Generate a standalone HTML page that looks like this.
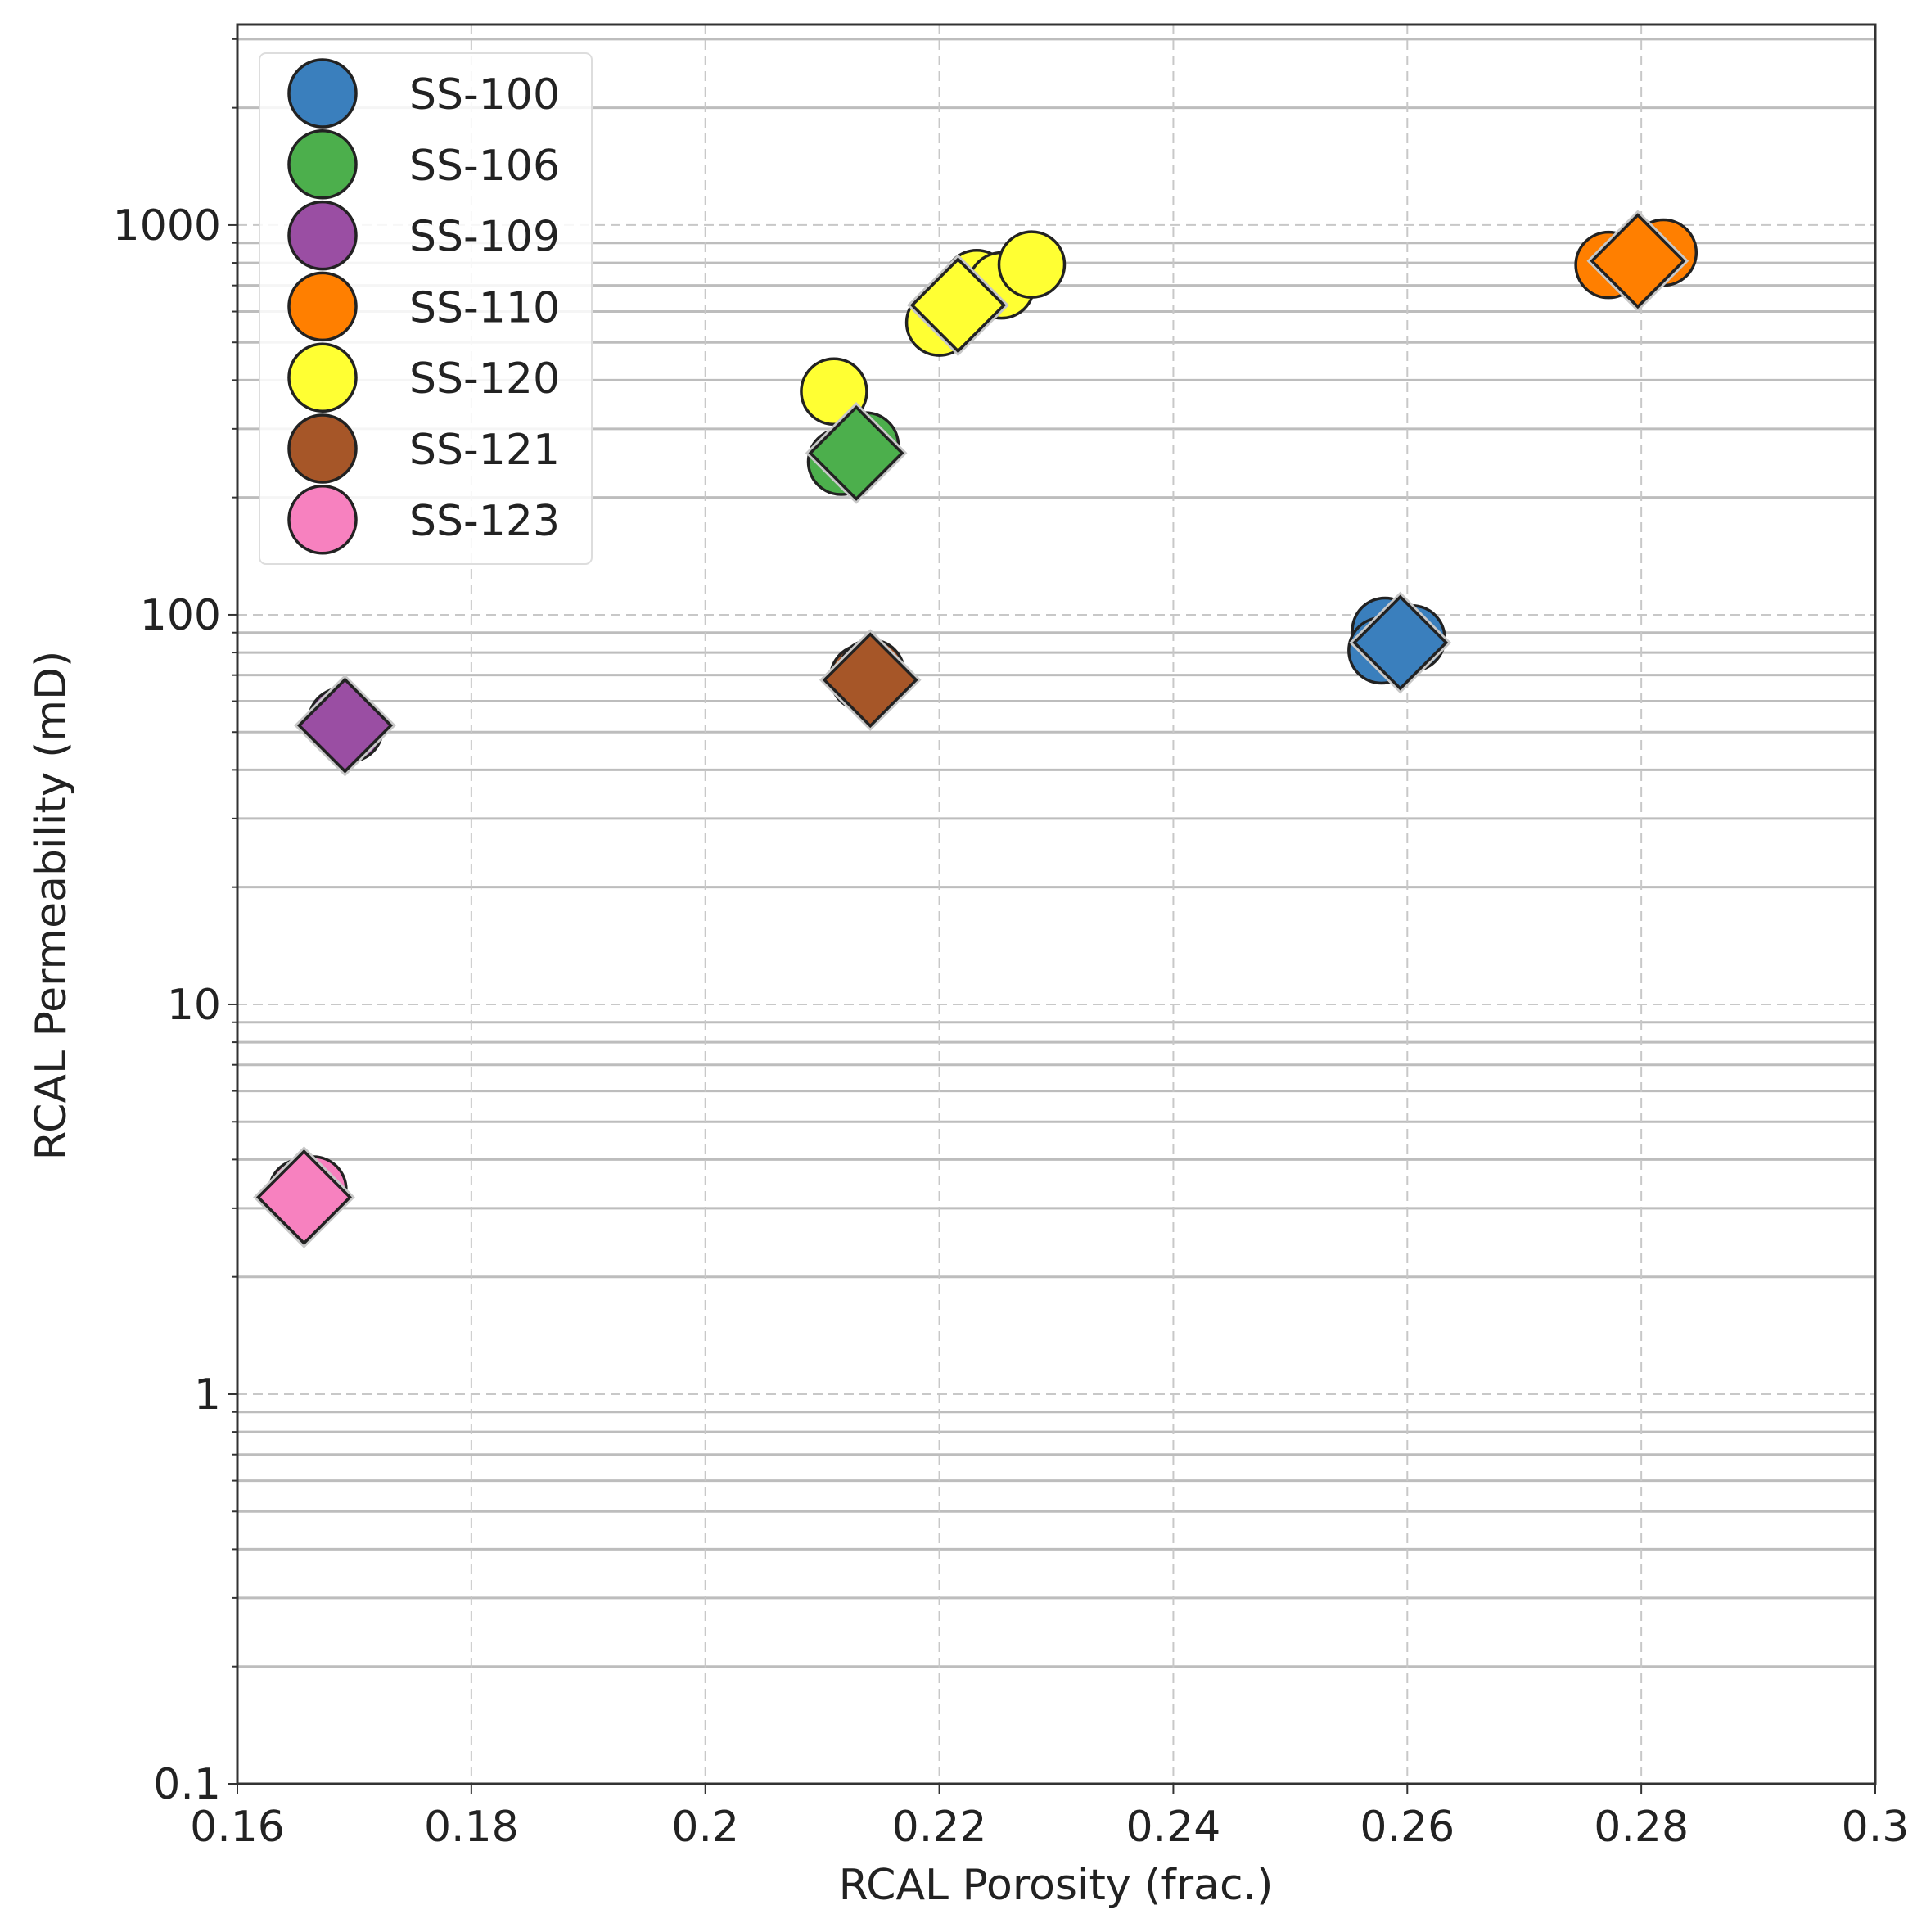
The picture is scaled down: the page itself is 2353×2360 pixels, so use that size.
<!DOCTYPE html>
<html><head><meta charset="utf-8">
<style>
html,body{margin:0;padding:0;background:#fff;}
svg{display:block;font-family:"DejaVu Sans","Liberation Sans",sans-serif;}
</style></head>
<body>
<svg id="chart" width="2353" height="2360" viewBox="0 0 2353 2360" xmlns="http://www.w3.org/2000/svg">
<g id="grid"></g>
<g id="marks"></g>
<g id="axes"></g>
<g id="legend"></g>
<text x="1290" y="2320" font-size="52" text-anchor="middle" fill="#222">RCAL Porosity (frac.)</text>
<text x="0" y="0" font-size="52" text-anchor="middle" fill="#222" transform="translate(80,1106) rotate(-90)">RCAL Permeability (mD)</text>
</svg>
<script>
const seriesNames = ["SS-100","SS-106","SS-109","SS-110","SS-120","SS-121","SS-123"];
const seriesColors = ["#3a7fbd","#4caf4c","#9a4ea3","#ff7f00","#ffff33","#a65628","#f781bf"];
const circleX = [[0.2581,0.2604,0.2578],[0.2116,0.2137],[0.1689,0.1696],[0.2772,0.2819],[0.211,0.220,0.2232,0.2253,0.2279],[0.2135,0.2142],[0.1655,0.1665]];
const circleY = [[91,87,81],[247,272],[53.4,51],[790,850],[374,562,710,700,792],[69,71],[3.3,3.35]];
const diamondX = [0.2594,0.2129,0.1692,0.2797,0.2216,0.2141,0.1657];
const diamondY = [84.8,260,52,809,623,68,3.2];
const xTicks = [0.16,0.18,0.2,0.22,0.24,0.26,0.28,0.3];
const xTickLabels = ["0.16","0.18","0.2","0.22","0.24","0.26","0.28","0.3"];
const yTicks = [0.1,1,10,100,1000];
const yTickLabels = ["0.1","1","10","100","1000"];

const L=290,R=2291,T=30,B=2179;
const xmin=0.16,xmax=0.3,lymin=-1,lymax=Math.log10(3270);
const sx=v=>L+(v-xmin)/(xmax-xmin)*(R-L);
const sy=v=>B-(Math.log10(v)-lymin)/(lymax-lymin)*(B-T);
const NS="http://www.w3.org/2000/svg";
function mk(tag,attrs,parent){const e=document.createElementNS(NS,tag);for(const k in attrs)e.setAttribute(k,attrs[k]);parent.appendChild(e);return e;}
const grid=document.getElementById('grid'),marks=document.getElementById('marks'),axes=document.getElementById('axes'),legend=document.getElementById('legend');

// minor y grid
for(let d=-1;d<=3;d++){for(let m=2;m<=9;m++){const v=m*Math.pow(10,d);if(Math.log10(v)>lymax)continue;const y=sy(v);
const ln=mk('line',{x1:L,x2:R,y1:y,y2:y,stroke:'#bdbdbd','stroke-width':3},grid);


mk('line',{x1:L-7,x2:L,y1:y,y2:y,stroke:'#333','stroke-width':2},axes);}}
// major y grid
yTicks.forEach((v,i)=>{const y=sy(v);
const ln=mk('line',{x1:L,x2:R,y1:y,y2:y,stroke:'#c8c8c8','stroke-width':2,'stroke-dasharray':'12,7'},grid);


mk('line',{x1:L-12,x2:L,y1:y,y2:y,stroke:'#333','stroke-width':2},axes);
const t=mk('text',{x:L-20,y:y+18,'font-size':52,'text-anchor':'end',fill:'#222'},axes);t.textContent=yTickLabels[i];

});
// x grid
xTicks.forEach((v,i)=>{const x=sx(v);
const ln=mk('line',{x1:x,x2:x,y1:T,y2:B,stroke:'#c8c8c8','stroke-width':2,'stroke-dasharray':'12,7'},grid);


mk('line',{x1:x,x2:x,y1:B,y2:B+12,stroke:'#333','stroke-width':2},axes);
const t=mk('text',{x:x,y:B+70,'font-size':52,'text-anchor':'middle',fill:'#222'},axes);t.textContent=xTickLabels[i];

});
const fr=mk('rect',{x:L,y:T,width:R-L,height:B-T,fill:'none',stroke:'#333','stroke-width':3},axes);



// markers
seriesNames.forEach((n,s)=>{
 circleX[s].forEach((xv,j)=>{const c=mk('circle',{cx:sx(xv),cy:sy(circleY[s][j]),r:40,fill:seriesColors[s],stroke:'#222','stroke-width':3.5},marks);
 
 });
});
seriesNames.forEach((n,s)=>{const x=sx(diamondX[s]),y=sy(diamondY[s]),h=56;
 const pts=`${x},${y-h} ${x+h},${y} ${x},${y+h} ${x-h},${y}`;
 mk('polygon',{points:pts,fill:'none',stroke:'#c8c8c8','stroke-width':9},marks);
 const p=mk('polygon',{points:pts,fill:seriesColors[s],stroke:'#222','stroke-width':3.5},marks);
 
 });

// legend
const lb=mk('rect',{x:317,y:65,width:406,height:624,rx:8,fill:'#fff','fill-opacity':0.85,stroke:'#ddd','stroke-width':2},legend);


seriesNames.forEach((n,s)=>{const y=114+s*86.8;
 const g=mk('g',{},legend);
 
 
 mk('circle',{cx:394,cy:y,r:41,fill:seriesColors[s],stroke:'#222','stroke-width':3.5},g);
 const t=mk('text',{x:500,y:y+19,'font-size':52,fill:'#222'},g);t.textContent=n;});
</script>
</body></html>
